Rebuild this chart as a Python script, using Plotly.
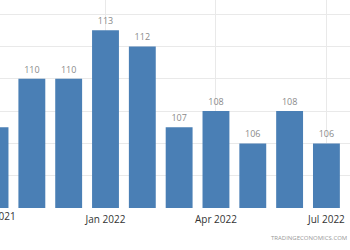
import plotly.graph_objects as go

months = ["Oct 2021", "Nov 2021", "Dec 2021", "Jan 2022", "Feb 2022", "Mar 2022",
          "Apr 2022", "May 2022", "Jun 2022", "Jul 2022"]
values = [107, 110, 110, 113, 112, 107, 108, 106, 108, 106]
tick_labels = ["Oct 2021", "Jan 2022", "Apr 2022", "Jul 2022"]

fig = go.Figure(go.Bar(
    x=months, y=values,
    marker=dict(color="#4a7fb5", line=dict(width=0)),
    text=[str(v) for v in values],
    textposition="outside",
    textfont=dict(family="Open Sans", size=9, color="#8a8a8a"),
    cliponaxis=False,
))

x_range = [0.135, 9.64]
# first tick label lies partly outside the visible range; place it in paper coordinates
first_pos = (months.index(tick_labels[0]) - x_range[0]) / (x_range[1] - x_range[0])

fig.update_layout(
    width=350, height=250,
    margin=dict(l=0, r=0, t=0, b=42),
    paper_bgcolor="white", plot_bgcolor="white",
    bargap=0.27,
    showlegend=False,
    xaxis=dict(
        type="category",
        range=x_range,
        tickvals=tick_labels, ticktext=tick_labels,
        showgrid=True, gridcolor="#e9e9e9", gridwidth=1,
        ticks="", showline=False, zeroline=False,
        ticklabelstandoff=4,
        tickfont=dict(family="Open Sans", size=10, color="#333333"),
    ),
    yaxis=dict(
        range=[102, 114.875],
        tick0=102, dtick=2,
        showgrid=True, gridcolor="#e9e9e9", gridwidth=1,
        showticklabels=False, zeroline=False, showline=False,
    ),
    annotations=[
        dict(
            text="TRADINGECONOMICS.COM", xref="paper", yref="paper",
            x=0.998, y=-0.145, xanchor="right", yanchor="middle",
            showarrow=False,
            font=dict(family="Open Sans", size=6, color="#999999"),
        ),
        dict(
            text=tick_labels[0], xref="paper", yref="paper",
            x=first_pos, y=-0.04, xanchor="center", yanchor="middle",
            showarrow=False,
            font=dict(family="Open Sans", size=10, color="#333333"),
        ),
    ],
)

fig.write_html("out.html")
